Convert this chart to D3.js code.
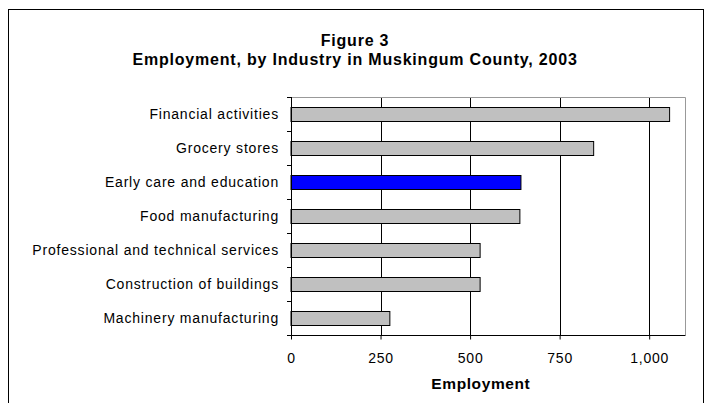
<!DOCTYPE html>
<html><head><meta charset="utf-8">
<script src="https://cdn.jsdelivr.net/npm/d3@7"></script>
<style>body{margin:0;background:#fff;}svg{display:block;font-family:"Liberation Sans",Arial,sans-serif;}</style>
</head><body><svg id="c" width="710" height="403"></svg>
<script>
const categories = ["Financial activities","Grocery stores","Early care and education","Food manufacturing","Professional and technical services","Construction of buildings","Machinery manufacturing"];
const values = [1057, 845, 642, 639, 528, 528, 276];
const highlight = ["Early care and education"];
const xTicks = [0, 250, 500, 750, 1000];
const titleLines = ["Figure 3", "Employment, by Industry in Muskingum County, 2003"];
const xTitle = "Employment";

const svg = d3.select("#c");
const m = {left: 291, right: 685, top: 97, bottom: 335};
svg.append("rect").attr("x", 8.5).attr("y", 9.5).attr("width", 695).attr("height", 400).attr("fill", "none").attr("stroke", "#000").attr("stroke-width", 1);

svg.selectAll("text.title").data(titleLines).join("text").attr("class","title")
  .attr("x", 355).attr("y", (d,i)=> 46 + i*19).attr("text-anchor","middle")
  .attr("font-size", 16).attr("font-weight","bold").attr("letter-spacing", 0.8).text(d=>d);

const x = d3.scaleLinear().domain([0, 1100]).range([m.left, m.right]);
const y = d3.scaleBand().domain(categories).range([m.top, m.bottom]).paddingInner(0.58).paddingOuter(0.29);

// gridlines
svg.append("g").selectAll("line").data(xTicks.filter(d=>d>0)).join("line")
  .attr("x1", d=>Math.round(x(d))+0.5).attr("x2", d=>Math.round(x(d))+0.5)
  .attr("y1", m.top).attr("y2", m.bottom).attr("stroke", "#000").attr("stroke-width", 1);
// plot border top/right gray
svg.append("path").attr("d", `M${m.left},${m.top+0.5}H${m.right+0.5}V${m.bottom}`).attr("fill","none").attr("stroke","#999").attr("stroke-width",1);

// bars
svg.append("g").selectAll("rect").data(categories).join("rect")
  .attr("x", m.left).attr("y", d=>Math.round(y(d))+0.5)
  .attr("width", (d,i)=> x(values[i]) - m.left).attr("height", Math.round(y.bandwidth()))
  .attr("fill", d=> highlight.includes(d) ? "#0000ff" : "#c0c0c0")
  .attr("stroke", "#000").attr("stroke-width", 1);

// y axis
const yb = d3.scaleLinear().domain([0, categories.length]).range([m.top, m.bottom]);
const ya = svg.append("g");
ya.append("line").attr("x1", m.left+0.5).attr("x2", m.left+0.5).attr("y1", m.top).attr("y2", m.bottom+0.5).attr("stroke","#000");
ya.selectAll("line.t").data(d3.range(categories.length+1)).join("line").attr("class","t")
  .attr("x1", m.left-4).attr("x2", m.left+0.5).attr("y1", d=>Math.round(yb(d))+0.5).attr("y2", d=>Math.round(yb(d))+0.5).attr("stroke","#000");
ya.selectAll("text").data(categories).join("text")
  .attr("x", 279).attr("y", d=> y(d)+y.bandwidth()/2).attr("dy","0.36em").attr("text-anchor","end")
  .attr("font-size", 14).attr("letter-spacing", 0.8).text(d=>d);

// x axis
const xa = svg.append("g").attr("transform", `translate(0,${m.bottom+0.5})`)
  .call(d3.axisBottom(x).tickValues(xTicks).tickSize(4).tickFormat(d3.format(",")));
xa.select(".domain").attr("d", `M${m.left},0H${m.right+0.5}`).attr("stroke","#000");
xa.selectAll("text").attr("font-size", 14).attr("letter-spacing", 0.8).attr("font-family", "Liberation Sans, Arial, sans-serif").attr("fill","#000").attr("y", 27.5).attr("dy", null);
xa.selectAll("line").attr("stroke","#000");

svg.append("text").attr("x", x(530)).attr("y", 389).attr("text-anchor","middle").attr("font-size", 15.5).attr("font-weight","bold").attr("letter-spacing", 0.6).text(xTitle);
</script></body></html>
